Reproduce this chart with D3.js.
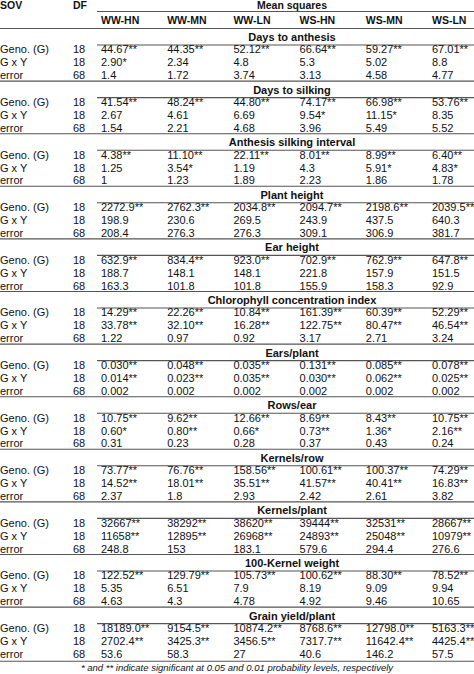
<!DOCTYPE html><html><head><meta charset="utf-8"><script src="https://cdn.jsdelivr.net/npm/d3@7"></script>
<style>body{margin:0;background:#fff}text{font-family:"Liberation Sans",Arial,sans-serif;font-size:11px;fill:#111}</style></head><body><svg id="c" width="474" height="674"></svg>
<script>
const columns=["WW-HN","WW-MN","WW-LN","WS-HN","WS-MN","WS-LN"];
const sources=["Geno. (G)","G x Y","error"];
const dfs=["18","18","68"];
const traits=["Days to anthesis","Days to silking","Anthesis silking interval","Plant height","Ear height","Chlorophyll concentration index","Ears/plant","Rows/ear","Kernels/row","Kernels/plant","100-Kernel weight","Grain yield/plant"];
const values=[
[["44.67**","44.35**","52.12**","66.64**","59.27**","67.01**"],["2.90*","2.34","4.8","5.3","5.02","8.8"],["1.4","1.72","3.74","3.13","4.58","4.77"]],
[["41.54**","48.24**","44.80**","74.17**","66.98**","53.76**"],["2.67","4.61","6.69","9.54*","11.15*","8.35"],["1.54","2.21","4.68","3.96","5.49","5.52"]],
[["4.38**","11.10**","22.11**","8.01**","8.99**","6.40**"],["1.25","3.54*","1.19","4.3","5.91*","4.83*"],["1","1.23","1.89","2.23","1.86","1.78"]],
[["2272.9**","2762.3**","2034.8**","2094.7**","2198.6**","2039.5**"],["198.9","230.6","269.5","243.9","437.5","640.3"],["208.4","276.3","276.3","309.1","306.9","381.7"]],
[["632.9**","834.4**","923.0**","702.9**","762.9**","647.8**"],["188.7","148.1","148.1","221.8","157.9","151.5"],["163.3","101.8","101.8","155.9","158.3","92.9"]],
[["14.29**","22.26**","10.84**","161.39**","60.39**","52.29**"],["33.78**","32.10**","16.28**","122.75**","80.47**","46.54**"],["1.22","0.97","0.92","3.17","2.71","3.24"]],
[["0.030**","0.048**","0.035**","0.131**","0.085**","0.078**"],["0.014**","0.023**","0.035**","0.030**","0.062**","0.025**"],["0.002","0.002","0.002","0.002","0.002","0.002"]],
[["10.75**","9.62**","12.66**","8.69**","8.43**","10.75**"],["0.60*","0.80**","0.66*","0.73**","1.36*","2.16**"],["0.31","0.23","0.28","0.37","0.43","0.24"]],
[["73.77**","76.76**","158.56**","100.61**","100.37**","74.29**"],["14.52**","18.01**","35.51**","41.57**","40.41**","16.83**"],["2.37","1.8","2.93","2.42","2.61","3.82"]],
[["32667**","38292**","38620**","39444**","32531**","28667**"],["11658**","12895**","26968**","24893**","25048**","10979**"],["248.8","153","183.1","579.6","294.4","276.6"]],
[["122.52**","129.79**","105.73**","100.62**","88.30**","78.52**"],["5.35","6.51","7.9","8.19","9.09","9.94"],["4.63","4.3","4.78","4.92","9.46","10.65"]],
[["18189.0**","9154.5**","10874.2**","8768.6**","12798.0**","5163.3**"],["2702.4**","3425.3**","3456.5**","7317.7**","11642.4**","4425.4**"],["53.6","58.3","27","40.6","146.2","57.5"]]];
const footnote="* and ** indicate significant at 0.05 and 0.01 probability levels, respectively";
const svg=d3.select("#c");
const colX=d3.scalePoint().domain(columns).range([101,432]);
const rowH=12.9, secH=52.6, top0=37;
const line=(x1,x2,y,w)=>svg.append("line").attr("x1",x1).attr("x2",x2).attr("y1",y).attr("y2",y).attr("stroke","#555").attr("stroke-width",w||1.1);
const hdr=(x,y,t,a)=>svg.append("text").attr("x",x).attr("y",y).attr("text-anchor",a||"start").attr("font-weight","bold").style("font-size","10.5px").text(t);
hdr(0,9,"SOV");hdr(73,9,"DF");hdr(292,9,"Mean squares","middle");
line(97,474,11.5);
columns.forEach(c=>hdr(colX(c),24,c));
traits.forEach((t,i)=>{
  const y=top0+i*secH;
  line(0,474,y-8.5);
  svg.append("text").attr("x",292).attr("y",y+4).attr("text-anchor","middle").attr("font-weight","bold").text(t);
  line(97,474,y+8);
  sources.forEach((s,r)=>{
    const yy=y+3.5+(r+1)*rowH;
    svg.append("text").attr("x",0).attr("y",yy).text(s);
    svg.append("text").attr("x",73).attr("y",yy).text(dfs[r]);
    values[i][r].forEach((v,k)=>svg.append("text").attr("x",colX(columns[k])).attr("y",yy).text(v));
  });
});
line(0,474,top0+11*secH+3.5+3*rowH+3.5);
svg.append("text").attr("x",237).attr("y",671).attr("text-anchor","middle").attr("font-style","italic").style("font-size","9.5px").text(footnote);
</script></body></html>
